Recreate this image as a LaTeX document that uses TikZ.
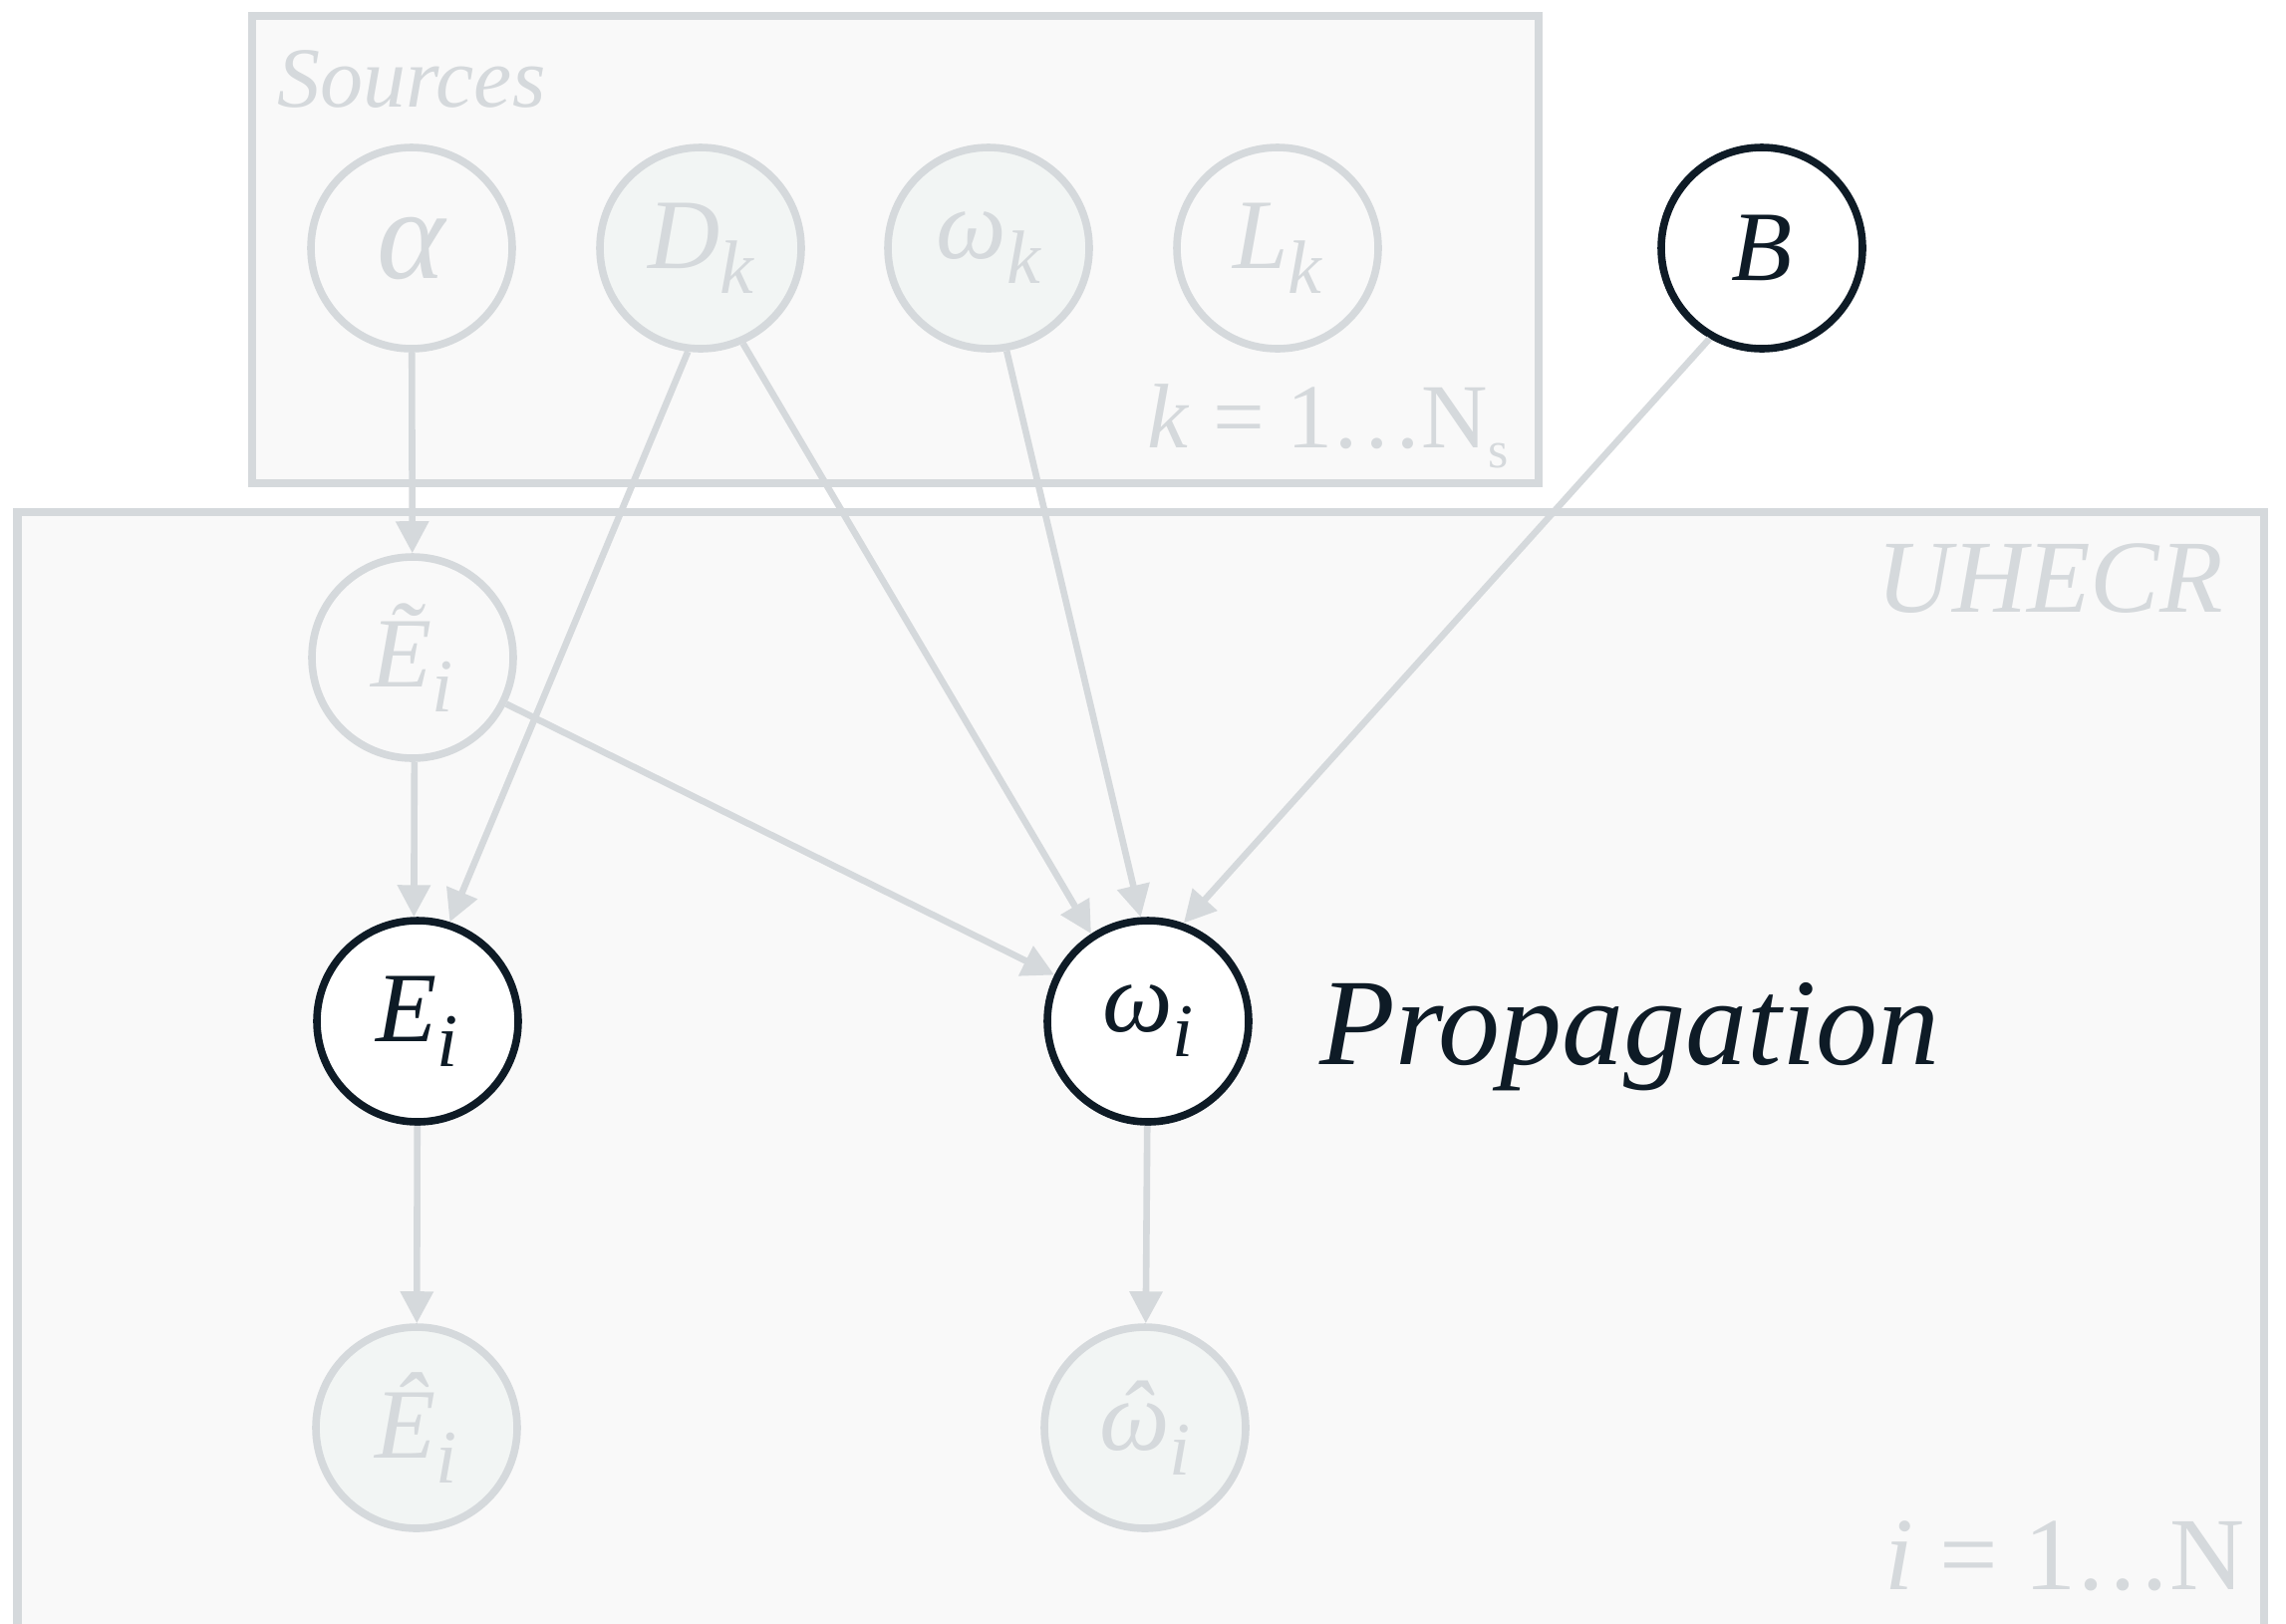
\documentclass[tikz,border=0pt]{standalone}
\usepackage{fontspec}
\usepackage{graphicx}
\setmainfont{Liberation Serif}
\usetikzlibrary{arrows.meta}
\definecolor{lgray}{HTML}{D5D9DC}
\definecolor{dnavy}{HTML}{0E1B26}
\definecolor{boxfill}{HTML}{F9F9F9}
\definecolor{obsfill}{HTML}{F2F5F4}
\newcommand{\lblfont}{\fontsize{50}{50}\selectfont\itshape}
\newcommand{\subsc}[1]{\raisebox{-12.5pt}{\fontsize{38}{38}\selectfont\itshape #1}}
\newcommand{\platesub}[1]{\raisebox{-10pt}{\fontsize{26}{26}\selectfont #1}}
\newcommand{\hatomega}{\makebox[0pt][l]{\hspace{9pt}ˆ}ω}
\begin{document}
\begin{tikzpicture}[x=0.5pt,y=-0.5pt,
  var/.style={circle, minimum size=101pt, inner sep=0pt, line width=3.8pt, font=\lblfont},
  latent/.style={var, draw=lgray, text=lgray},
  obs/.style={latent, fill=obsfill},
  active/.style={var, draw=dnavy, fill=white, text=dnavy},
  plate/.style={draw=lgray, fill=boxfill, line width=4.2pt},
  edge/.style={draw=lgray, line width=3.3pt, -{Triangle[length=16pt,width=16pt]}},
  platelbl/.style={text=lgray, inner sep=0pt},
]
\useasboundingbox (0,0) rectangle (2294,1629);
% plates
\path[plate] (17.5,514) rectangle (2272,1720);
\path[plate] (253,16) rectangle (1544,485);
% plate labels
\node[platelbl, anchor=base west, font=\fontsize{43}{43}\selectfont\itshape] (srclbl) at (278,107) {Sources};
\node[platelbl, anchor=base east, font=\fontsize{46}{46}\selectfont] (klbl) at (1514,449) {\textit{k} = 1\kern1pt.\kern4pt.\kern4pt.\kern1pt N\platesub{s}};
\node[platelbl, anchor=base east, font=\fontsize{52}{52}\selectfont\itshape] (uhlbl) at (2231,614) {UHECR};
\node[platelbl, anchor=base east, font=\fontsize{52}{52}\selectfont] (ilbl) at (2253,1595) {\textit{i} = 1\kern1pt.\kern3pt.\kern3pt.\kern1pt N};
% nodes
\node[latent] (alpha) at (413,249) {\scalebox{1.3}{α}};
\node[obs] (D) at (703,249) {D\subsc{k}};
\node[obs] (wk) at (992,249) {ω\subsc{k}};
\node[latent] (L) at (1282,249) {L\subsc{k}};
\node[active] (B) at (1768,249) {B};
\node[latent] (Et) at (414,660) {Ẽ\subsc{i}};
\node[active] (E) at (419,1025) {E\subsc{i}};
\node[active] (w) at (1152,1025) {ω\subsc{i}};
\node[obs] (Eh) at (418,1433) {Ê\subsc{i}};
\node[obs] (wh) at (1149,1433) {\hatomega\subsc{i}};
\node[anchor=base west, text=dnavy, inner sep=0pt, font=\fontsize{62}{62}\selectfont\itshape] (prop) at (1324,1068) {Propagation};
% edges
\draw[edge] (alpha) -- (Et);
\draw[edge] (D.-97) -- (E.72);
\draw[edge] (D.-66) -- (w.123);
\draw[edge] (wk.-80) -- (w.94);
\draw[edge] (B.-120) -- (w.70);
\draw[edge] (Et.-89) -- (E.92);
\draw[edge] (Et) -- (w);
\draw[edge] (E) -- (Eh);
\draw[edge] (w) -- (wh);
\end{tikzpicture}
\end{document}
